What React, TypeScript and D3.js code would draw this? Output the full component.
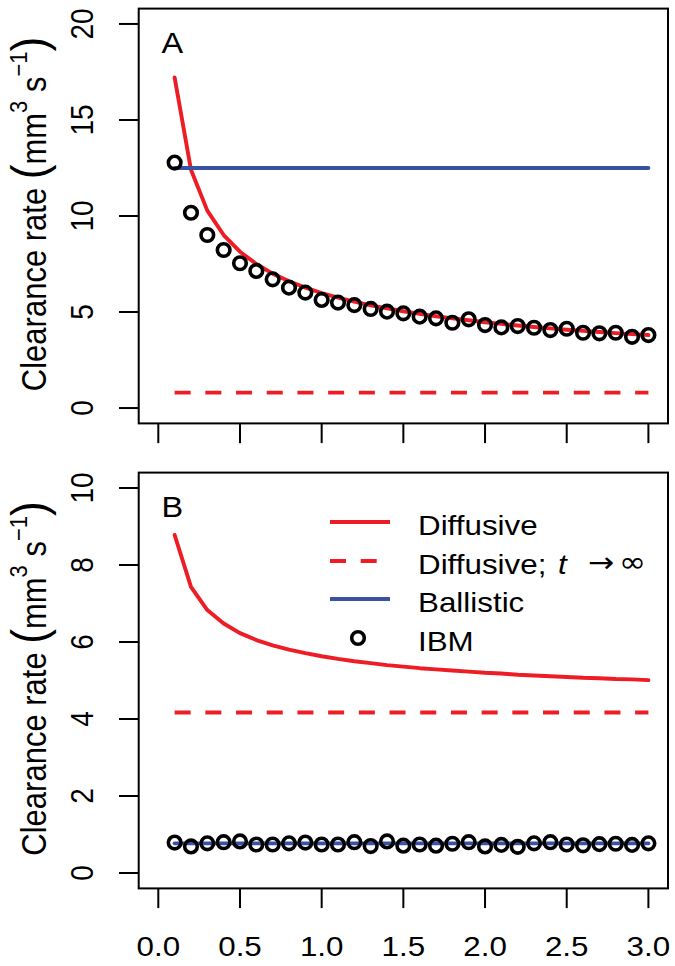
import React from 'react';
import * as d3 from 'd3';

// ---------- data ----------
const tValues = [0.1, 0.2, 0.3, 0.4, 0.5, 0.6, 0.7, 0.8, 0.9, 1.0, 1.1, 1.2, 1.3, 1.4, 1.5, 1.6, 1.7, 1.8, 1.9, 2.0, 2.1, 2.2, 2.3, 2.4, 2.5, 2.6, 2.7, 2.8, 2.9, 3.0];

const diffusiveA = [17.21, 12.41, 10.28, 9.01, 8.14, 7.50, 7.00, 6.60, 6.27, 5.99, 5.75, 5.54, 5.35, 5.19, 5.04, 4.90, 4.78, 4.67, 4.57, 4.47, 4.38, 4.30, 4.22, 4.15, 4.08, 4.02, 3.96, 3.90, 3.85, 3.80];
const diffusiveInfA = 0.8;
const ballisticA = 12.5;
const ibmA = [12.78, 10.17, 9.01, 8.23, 7.54, 7.14, 6.70, 6.27, 6.01, 5.63, 5.49, 5.36, 5.16, 5.02, 4.93, 4.76, 4.67, 4.44, 4.62, 4.32, 4.20, 4.27, 4.18, 4.06, 4.13, 3.92, 3.89, 3.92, 3.71, 3.80];

const diffusiveB = [8.78, 7.43, 6.83, 6.48, 6.23, 6.05, 5.91, 5.80, 5.71, 5.63, 5.56, 5.50, 5.45, 5.40, 5.36, 5.32, 5.29, 5.26, 5.23, 5.20, 5.18, 5.15, 5.13, 5.11, 5.09, 5.07, 5.06, 5.04, 5.03, 5.01];
const diffusiveInfB = 4.17;
const ballisticB = 0.77;
const ibmB = [0.79, 0.69, 0.77, 0.80, 0.82, 0.74, 0.74, 0.77, 0.79, 0.74, 0.74, 0.80, 0.70, 0.82, 0.71, 0.74, 0.71, 0.76, 0.80, 0.69, 0.73, 0.68, 0.77, 0.80, 0.74, 0.72, 0.75, 0.76, 0.73, 0.77];

const xTicks = [0, 0.5, 1.0, 1.5, 2.0, 2.5, 3.0];
const xTickLabels = ['0.0', '0.5', '1.0', '1.5', '2.0', '2.5', '3.0'];
const yTicksA = [0, 5, 10, 15, 20];
const yTicksB = [0, 2, 4, 6, 8, 10];
const legendLabels = ['Diffusive', 'Diffusive;', 'Ballistic', 'IBM'];

// ---------- style ----------
const W = 675;
const H = 966;
const FONT = '"Liberation Sans", Arial, Helvetica, sans-serif';
const SX = 1.12;
const RED = '#ee1c25';
const BLUE = '#3a52a3';
const LW = 3.9;
const DASH = '16 14.7';

const plotLeft = 138.7;
const plotRight = 668;

const x = d3.scaleLinear().domain([-0.12, 3.12]).range([plotLeft, plotRight]);

type PanelDef = {
  top: number;
  bottom: number;
  domain: [number, number];
  ticks: number[];
  letter: string;
  diffusive: number[];
  inf: number;
  ballistic: number;
  ibm: number[];
  showXLabels: boolean;
  legend: boolean;
};

const panels: PanelDef[] = [
  { top: 8.6, bottom: 423.4, domain: [-0.8, 20.8], ticks: yTicksA, letter: 'A', diffusive: diffusiveA, inf: diffusiveInfA, ballistic: ballisticA, ibm: ibmA, showXLabels: false, legend: false },
  { top: 472.6, bottom: 888.4, domain: [-0.4, 10.4], ticks: yTicksB, letter: 'B', diffusive: diffusiveB, inf: diffusiveInfB, ballistic: ballisticB, ibm: ibmB, showXLabels: true, legend: true },
];

function SText(props: { x: number; y: number; rot?: boolean; anchor?: string; size: number; style?: string; family?: string; children: React.ReactNode }) {
  const { x: tx, y: ty, rot, anchor, size, style, family, children } = props;
  return (
    <text
      transform={`translate(${tx},${ty}) scale(${SX},1)${rot ? ' rotate(-90)' : ''}`}
      textAnchor={anchor || 'start'}
      fontSize={size}
      fontStyle={style || 'normal'}
      fontFamily={family || FONT}
      fill="#000"
    >
      {children}
    </text>
  );
}

function Panel({ p }: { p: PanelDef }) {
  const y = d3.scaleLinear().domain(p.domain).range([p.bottom, p.top]);
  const line = d3.line<number>().x((_, i) => x(tValues[i])).y((d) => y(d));
  const t0 = tValues[0];
  const t1 = tValues[tValues.length - 1];
  const tickLen = 19.7;
  const center = (p.top + p.bottom) / 2;
  return (
    <g>
      {/* lines */}
      <path d={line(p.diffusive) || ''} fill="none" stroke={RED} strokeWidth={LW} strokeLinejoin="round" strokeLinecap="round" />
      <line x1={x(t0)} x2={x(t1)} y1={y(p.inf)} y2={y(p.inf)} stroke={RED} strokeWidth={LW} strokeDasharray={DASH} />
      <line x1={x(t0)} x2={x(t1)} y1={y(p.ballistic)} y2={y(p.ballistic)} stroke={BLUE} strokeWidth={LW} strokeLinecap="round" />
      {p.ibm.map((v, i) => (
        <circle key={i} cx={x(tValues[i])} cy={y(v)} r={6.3} fill="none" stroke="#000" strokeWidth={3.6} />
      ))}
      {/* box */}
      <rect x={plotLeft} y={p.top} width={plotRight - plotLeft} height={p.bottom - p.top} fill="none" stroke="#000" strokeWidth={2} />
      {/* y axis */}
      {p.ticks.map((t) => (
        <g key={t}>
          <line x1={plotLeft - tickLen} x2={plotLeft} y1={y(t)} y2={y(t)} stroke="#000" strokeWidth={2} />
          <SText x={93} y={y(t)} rot anchor="middle" size={28}>{String(t)}</SText>
        </g>
      ))}
      {/* x axis */}
      {xTicks.map((t, i) => (
        <g key={t}>
          <line x1={x(t)} x2={x(t)} y1={p.bottom} y2={p.bottom + tickLen} stroke="#000" strokeWidth={2} />
          {p.showXLabels && (
            <SText x={x(t)} y={956} anchor="middle" size={28}>{xTickLabels[i]}</SText>
          )}
        </g>
      ))}
      {/* panel letter */}
      <SText x={161.5} y={p.top + 44} size={29}>{p.letter}</SText>
      {/* y label */}
      <text transform={`translate(46,${center - 2}) scale(${SX},1) rotate(-90)`} textAnchor="middle" fontSize={31} fontFamily={FONT} fill="#000">
        Clearance rate <tspan fontSize={44}>(</tspan>mm<tspan fontSize={22} dy={-17}>3</tspan><tspan dy={17}> s</tspan><tspan fontSize={22} dy={-17}>−1</tspan><tspan fontSize={44} dy={17}>)</tspan>
      </text>
      {p.legend && <Legend />}
    </g>
  );
}

function Legend() {
  const lx0 = 330;
  const lx1 = 390;
  const tx = 418;
  const rowY = [522, 561, 599, 638];
  return (
    <g>
      <line x1={lx0} x2={lx1} y1={rowY[0]} y2={rowY[0]} stroke={RED} strokeWidth={LW} />
      <line x1={lx0} x2={lx1} y1={rowY[1]} y2={rowY[1]} stroke={RED} strokeWidth={LW} strokeDasharray={DASH} />
      <line x1={lx0} x2={lx1} y1={rowY[2]} y2={rowY[2]} stroke={BLUE} strokeWidth={LW} />
      <circle cx={358} cy={rowY[3]} r={6.3} fill="none" stroke="#000" strokeWidth={3.6} />
      {legendLabels.map((s, i) => (
        <SText key={s} x={tx} y={rowY[i] + 12.5} size={28}>{s}</SText>
      ))}
      <SText x={558} y={rowY[1] + 12.5} size={28} style="italic">t</SText>
      <SText x={588} y={rowY[1] + 11} size={28} family={'"DejaVu Sans", sans-serif'}>→</SText>
      <SText x={619} y={rowY[1] + 11} size={29} family={'"DejaVu Sans", sans-serif'}>∞</SText>
    </g>
  );
}

export default function App() {
  return (
    <svg width={W} height={H} viewBox={`0 0 ${W} ${H}`} style={{ position: 'absolute', left: 0, top: 0, display: 'block', background: '#fff' }}>
      <rect x={0} y={0} width={W} height={H} fill="#fff" />
      {panels.map((p) => (
        <Panel key={p.letter} p={p} />
      ))}
    </svg>
  );
}
